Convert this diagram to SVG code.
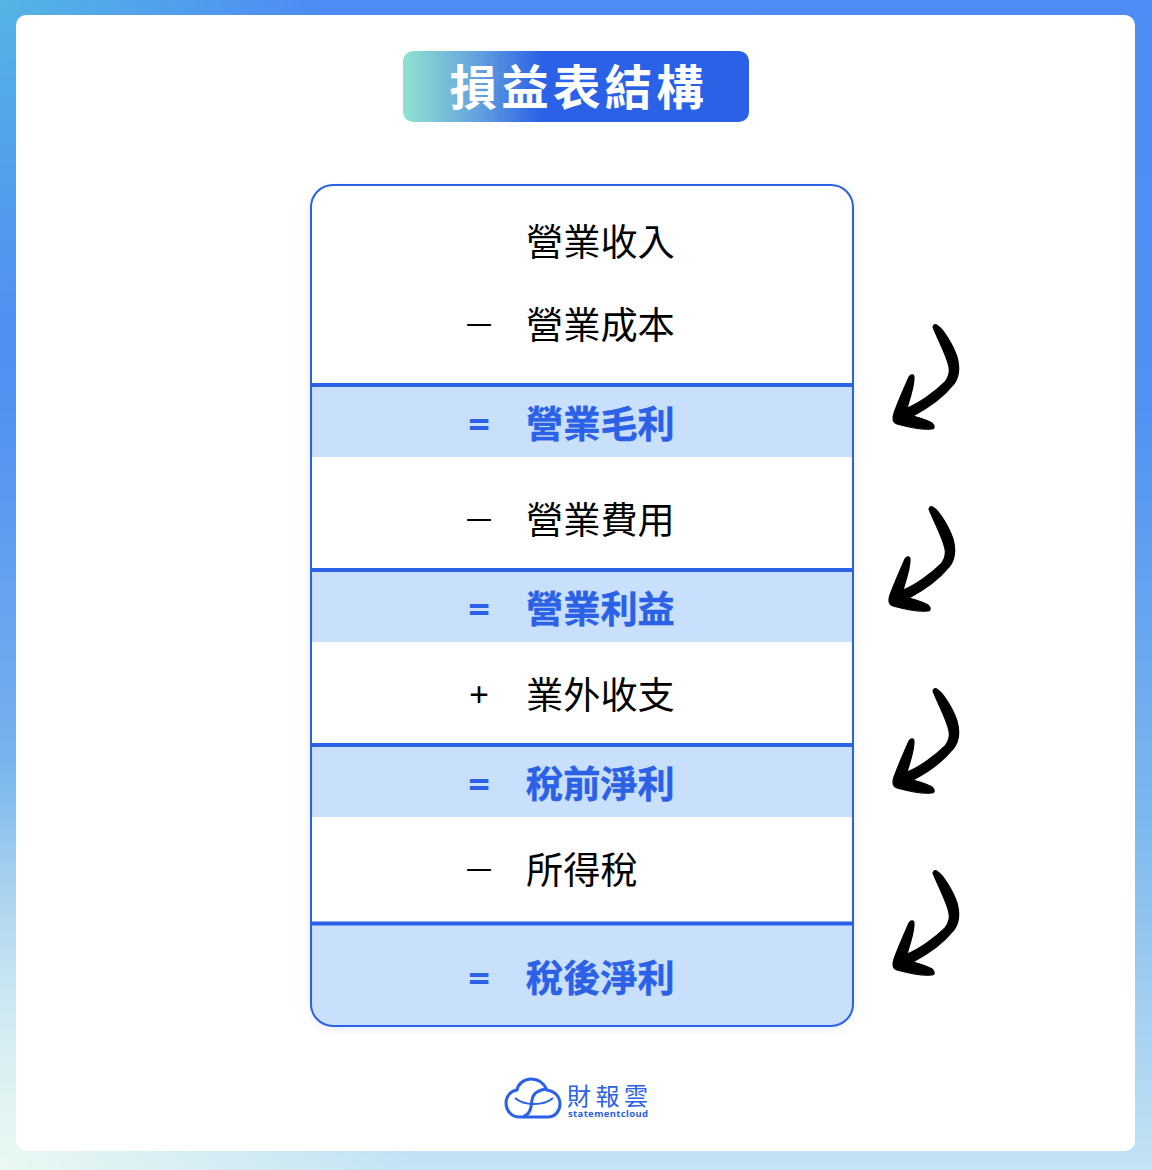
<svg xmlns="http://www.w3.org/2000/svg" width="1152" height="1170" viewBox="0 0 1152 1170">
<style>
text{font-family:"Noto Sans CJK TC","Noto Sans CJK SC",sans-serif}
.n{font-size:37.2px;fill:#000}
.h{font-size:37.2px;fill:#2a61e6;font-weight:700;stroke:#2a61e6;stroke-width:.4}
.m{font-size:26px;fill:#000;text-anchor:middle}
.p{font-size:35px;fill:#000;text-anchor:middle;font-family:"Noto Sans",sans-serif}
.e{font-size:38px;fill:#2a61e6;font-weight:700;text-anchor:middle;font-family:"Noto Sans",sans-serif}
.band{fill:#c9e0fd}
.rule{stroke:#2a61e6;stroke-width:4;fill:none}
</style>
<defs>
<linearGradient id="bg" x1="0" y1="0" x2="0" y2="1"><stop offset="0" stop-color="#4d8cf4"/><stop offset=".35" stop-color="#4f92f2"/><stop offset=".7" stop-color="#7cb8ee"/><stop offset="1" stop-color="#c4e3f4"/></linearGradient>
<radialGradient id="tl" gradientUnits="userSpaceOnUse" cx="0" cy="0" r="320"><stop offset="0" stop-color="#55b4e4"/><stop offset="1" stop-color="#55b4e4" stop-opacity="0"/></radialGradient>
<radialGradient id="bl" gradientUnits="userSpaceOnUse" cx="0" cy="1170" r="420"><stop offset="0" stop-color="#e9f8f3"/><stop offset="1" stop-color="#e9f8f3" stop-opacity="0"/></radialGradient>
<linearGradient id="tg" x1="0" y1="0" x2="1" y2="0"><stop offset="0" stop-color="#8fe3d0"/><stop offset=".22" stop-color="#63a0de"/><stop offset=".4" stop-color="#2a61e6"/><stop offset="1" stop-color="#2a61e6"/></linearGradient>
<filter id="sh" x="-5%" y="-5%" width="110%" height="110%"><feDropShadow dx="0" dy="2" stdDeviation="5" flood-color="#8aa6d8" flood-opacity=".25"/></filter>
<clipPath id="card"><rect x="311" y="185" width="542" height="841" rx="22"/></clipPath>
<path id="arrow" d="M933 327C934 324 936 324 938 326C943 329 953 345 957 357C960 368 959 378 953 385C945 395 930 407 913 416C920 418 928 420 932 423C935 426 935 429 931 429C924 430 908 427 897 424C893 423 892 419 894 413C898 402 905 386 909 377C911 374 914 374 914 378C914 387 910 398 907 408C918 404 935 392 945 382C949 377 950 372 949 367C947 356 938 340 933 327Z" fill="#000" stroke="#000" stroke-width="1.2" stroke-linejoin="round"/>
</defs>
<rect width="1152" height="1170" fill="url(#bg)"/>
<rect width="1152" height="1170" fill="url(#tl)"/>
<rect width="1152" height="1170" fill="url(#bl)"/>
<rect x="16" y="15" width="1119" height="1136" rx="10" fill="#fff"/>
<g id="title"><rect x="403" y="51" width="346" height="71" rx="10" fill="url(#tg)"/>
<text x="449.5" y="105" font-size="47.5" font-weight="700" fill="#fff" letter-spacing="4.2">損益表結構</text></g>
<g id="table">
<rect x="311" y="185" width="542" height="841" rx="22" fill="#fff" filter="url(#sh)"/>
<g clip-path="url(#card)">
<rect class="band" x="311" y="385" width="542" height="72"/>
<rect class="band" x="311" y="570" width="542" height="72"/>
<rect class="band" x="311" y="745" width="542" height="72"/>
<rect class="band" x="311" y="923" width="542" height="103"/>
</g>
<path class="rule" d="M311 385H853M311 570H853M311 745H853M311 923.5H853"/>
<rect x="311" y="185" width="542" height="841" rx="22" fill="none" stroke="#2a61e6" stroke-width="2"/>
</g>
<g id="row1"><text class="n" x="526" y="255.500">營業收入</text></g>
<g id="row2"><text class="m" x="479" y="335">一</text><text class="n" x="526" y="338.500">營業成本</text></g>
<g id="row3"><text class="e" x="479" y="438">=</text><text class="h" x="526" y="437.500">營業毛利</text></g>
<g id="row4"><text class="m" x="479" y="530">一</text><text class="n" x="526" y="533.500">營業費用</text></g>
<g id="row5"><text class="e" x="479" y="623">=</text><text class="h" x="526" y="622.500">營業利益</text></g>
<g id="row6"><text class="p" x="479" y="707">+</text><text class="n" x="526" y="708.500">業外收支</text></g>
<g id="row7"><text class="e" x="479" y="798">=</text><text class="h" x="526" y="797.500">稅前淨利</text></g>
<g id="row8"><text class="m" x="479" y="880">一</text><text class="n" x="526" y="883.500">所得稅</text></g>
<g id="row9"><text class="e" x="479" y="992">=</text><text class="h" x="526" y="991.500">稅後淨利</text></g>
<g id="connectors">
<use href="#arrow"/>
<use href="#arrow" x="-4" y="182"/>
<use href="#arrow" y="364"/>
<use href="#arrow" y="546"/>
</g>
<g id="logo" fill="none" stroke="#2a61e6" stroke-width="3">
<path d="M519 1117H548C555 1117 560 1111 560 1104C560 1097 555 1091 547 1090C544 1083 538 1079 531 1079C524 1079 518 1084 517 1090C510 1091 506 1097 506 1103C506 1111 512 1117 519 1117Z"/>
<path d="M546 1089C538 1090 533 1094 532 1100C531 1107 531 1114 523 1117"/>
<path d="M515 1098C524 1106 544 1106 553 1098" stroke-width="2"/>
<text x="567" y="1105" font-size="24" fill="#2a61e6" stroke="none" letter-spacing="4.5">財報雲</text>
<text x="568" y="1117" font-size="9.5" font-weight="700" fill="#2a61e6" stroke="none" letter-spacing=".35" style="font-family:'Noto Sans',sans-serif">statementcloud</text>
</g>
</svg>
